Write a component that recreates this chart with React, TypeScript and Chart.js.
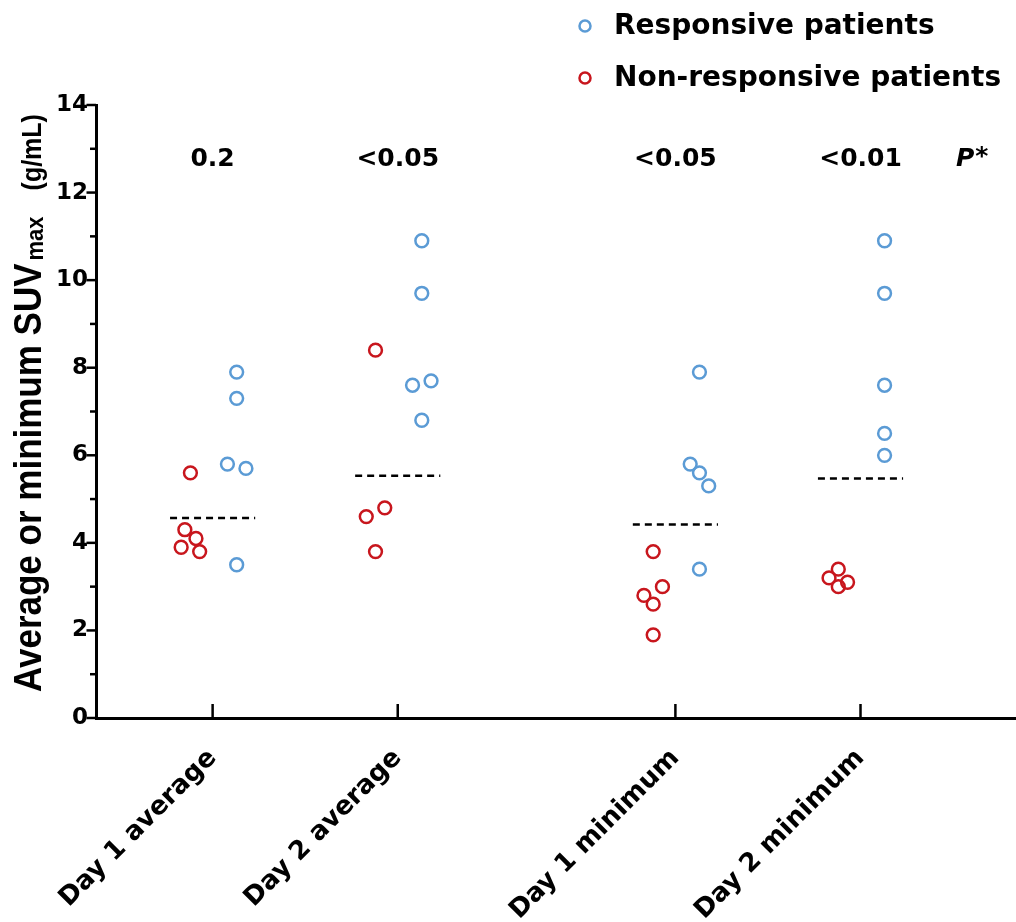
import React, { useEffect, useRef } from "react";
import { Chart, registerables } from "chart.js";

Chart.register(...registerables);

// ---------- data ----------
const categories = ["Day 1 average", "Day 2 average", "Day 1 minimum", "Day 2 minimum"];
const categoryPositions = [0, 1, 2.5, 3.5];

const seriesNames = ["Responsive patients", "Non-responsive patients"];

const responsiveValues = [
  [7.9, 7.3, 5.8, 5.7, 3.5],
  [10.9, 9.7, 7.7, 7.6, 6.8],
  [7.9, 5.8, 5.6, 5.3, 3.4],
  [10.9, 9.7, 7.6, 6.5, 6.0],
];
const responsiveJitter = [
  [0.13, 0.13, 0.08, 0.18, 0.13],
  [0.13, 0.13, 0.18, 0.08, 0.13],
  [0.13, 0.08, 0.13, 0.18, 0.13],
  [0.13, 0.13, 0.13, 0.13, 0.13],
];

const nonResponsiveValues = [
  [5.6, 4.3, 4.1, 3.9, 3.8],
  [8.4, 4.8, 4.6, 3.8],
  [3.8, 3.0, 2.8, 2.6, 1.9],
  [3.4, 3.2, 3.1, 3.0],
];
const nonResponsiveJitter = [
  [-0.12, -0.15, -0.09, -0.17, -0.07],
  [-0.12, -0.07, -0.17, -0.12],
  [-0.12, -0.07, -0.17, -0.12, -0.12],
  [-0.12, -0.17, -0.07, -0.12],
];

const cutoffValues = [4.57, 5.53, 4.42, 5.47];
const cutoffHalfWidth = 0.23;

const pValueLabels = ["0.2", "<0.05", "<0.05", "<0.01"];
const pValueLevel = 12.75;
const pHeaderPosition = 4.1;
const pHeaderText = "P";
const pHeaderStar = "*";

const yMin = 0;
const yMax = 14;
const xMin = -0.63;
const xMax = 4.34;

const yTitleMain = "Average or minimum SUV";
const yTitleSub = "max";
const yTitleUnit = "(g/mL)";

// ---------- styles ----------
const BLUE = "#5B9BD5";
const RED = "#C8161D";
const DEJAVU = '"DejaVu Sans", sans-serif';
const LIBERATION = '"Liberation Sans", Arial, sans-serif';

function buildPoints(values: number[][], jitter: number[][]) {
  const pts: { x: number; y: number }[] = [];
  values.forEach((arr, ci) => {
    arr.forEach((v, i) => {
      pts.push({ x: categoryPositions[ci] + jitter[ci][i], y: v });
    });
  });
  return pts;
}

const overlayPlugin = {
  id: "overlay",
  afterDraw(chart: any) {
    const ctx = chart.ctx as CanvasRenderingContext2D;
    const xs = chart.scales.x;
    const ys = chart.scales.y;
    const area = chart.chartArea;
    ctx.save();
    ctx.strokeStyle = "#000";
    ctx.fillStyle = "#000";
    ctx.lineWidth = 2.5;

    // y ticks (major / minor), outward
    ys.ticks.forEach((t: any) => {
      const py = ys.getPixelForValue(t.value);
      const len = t.value % 2 === 0 ? 8 : 4.5;
      ctx.beginPath();
      ctx.moveTo(area.left - 1.5 - len, py);
      ctx.lineTo(area.left, py);
      ctx.stroke();
    });

    // x ticks, inward (upward)
    categoryPositions.forEach((v) => {
      const px = xs.getPixelForValue(v);
      ctx.beginPath();
      ctx.moveTo(px, area.bottom);
      ctx.lineTo(px, area.bottom - 14);
      ctx.stroke();
    });

    // P values
    ctx.textAlign = "center";
    ctx.textBaseline = "middle";
    ctx.font = `bold 25px ${DEJAVU}`;
    const py = ys.getPixelForValue(pValueLevel);
    pValueLabels.forEach((lbl, i) => {
      ctx.fillText(lbl, xs.getPixelForValue(categoryPositions[i]), py);
    });
    // P* header
    const hx = xs.getPixelForValue(pHeaderPosition);
    ctx.font = `italic bold 25px ${DEJAVU}`;
    const wP = ctx.measureText(pHeaderText).width;
    ctx.font = `bold 25px ${DEJAVU}`;
    const wS = ctx.measureText(pHeaderStar).width;
    const startX = hx - (wP + wS) / 2;
    ctx.textAlign = "left";
    ctx.font = `italic bold 25px ${DEJAVU}`;
    ctx.fillText(pHeaderText, startX, py);
    ctx.font = `bold 25px ${DEJAVU}`;
    ctx.fillText(pHeaderStar, startX + wP + 1, py - 2);

    // Legend
    const legendColors = [BLUE, RED];
    const legendRows = [26, 78];
    ctx.font = `bold 28px ${DEJAVU}`;
    ctx.textBaseline = "middle";
    ctx.textAlign = "left";
    seriesNames.forEach((name, i) => {
      ctx.beginPath();
      ctx.lineWidth = 2.5;
      ctx.strokeStyle = legendColors[i];
      ctx.arc(585, legendRows[i], 5.5, 0, Math.PI * 2);
      ctx.stroke();
      ctx.fillStyle = "#000";
      ctx.fillText(name, 614, legendRows[i] + 1);
    });

    // Y axis title (rotated, with subscript)
    ctx.save();
    ctx.fillStyle = "#000";
    ctx.translate(41, 692);
    ctx.scale(1.12, 1);
    ctx.rotate(-Math.PI / 2);
    ctx.textAlign = "left";
    ctx.textBaseline = "alphabetic";
    ctx.font = `bold 35px ${LIBERATION}`;
    ctx.fillText(yTitleMain, 0, 0);
    const w1 = ctx.measureText(yTitleMain).width;
    ctx.font = `bold 22px ${LIBERATION}`;
    ctx.fillText(yTitleSub, w1 + 3, 2);
    const w2 = ctx.measureText(yTitleSub).width;
    ctx.font = `bold 25px ${LIBERATION}`;
    ctx.fillText(yTitleUnit, w1 + w2 + 29, 0);
    ctx.restore();

    ctx.restore();
  },
};

export default function App() {
  const canvasRef = useRef<HTMLCanvasElement | null>(null);

  useEffect(() => {
    if (!canvasRef.current) return;
    const cutoffDatasets = cutoffValues.map((v, i) => ({
      label: `cutoff-${i}`,
      data: [
        { x: categoryPositions[i] - cutoffHalfWidth, y: v },
        { x: categoryPositions[i] + cutoffHalfWidth, y: v },
      ],
      showLine: true,
      borderColor: "#000",
      borderWidth: 2.5,
      borderDash: [7, 5],
      pointRadius: 0,
      fill: false,
    }));

    const chart = new Chart(canvasRef.current, {
      type: "scatter",
      data: {
        datasets: [
          ...cutoffDatasets,
          {
            label: seriesNames[0],
            data: buildPoints(responsiveValues, responsiveJitter),
            pointStyle: "circle",
            pointRadius: 6.4,
            pointBorderWidth: 2.5,
            borderColor: BLUE,
            backgroundColor: "rgba(0,0,0,0)",
            pointBackgroundColor: "rgba(0,0,0,0)",
          },
          {
            label: seriesNames[1],
            data: buildPoints(nonResponsiveValues, nonResponsiveJitter),
            pointStyle: "circle",
            pointRadius: 6.4,
            pointBorderWidth: 2.5,
            borderColor: RED,
            backgroundColor: "rgba(0,0,0,0)",
            pointBackgroundColor: "rgba(0,0,0,0)",
          },
        ],
      } as any,
      options: {
        animation: false,
        responsive: false,
        devicePixelRatio: 1,
        layout: { autoPadding: false, padding: { top: 105, right: 0, bottom: 0, left: 0 } },
        plugins: {
          legend: { display: false },
          tooltip: { enabled: false },
          title: { display: false },
        },
        scales: {
          x: {
            type: "linear",
            min: xMin,
            max: xMax,
            afterBuildTicks: (scale: any) => {
              scale.ticks = categoryPositions.map((v) => ({ value: v }));
            },
            afterFit: (scale: any) => {
              scale.height = 204;
            },
            ticks: {
              autoSkip: false,
              minRotation: 45,
              maxRotation: 45,
              padding: 25,
              color: "#000",
              font: { family: DEJAVU, size: 26, weight: "bold" },
              callback: (_v: any, index: number) => categories[index],
            },
            grid: { display: false, drawTicks: false },
            border: { display: true, color: "#000", width: 3 },
          },
          y: {
            type: "linear",
            min: yMin,
            max: yMax,
            afterFit: (scale: any) => {
              scale.width = 96;
            },
            ticks: {
              stepSize: 1,
              padding: 8,
              color: "#000",
              font: { family: DEJAVU, size: 23, weight: "bold" },
              callback: (v: any) => (Number(v) % 2 === 0 ? String(v) : ""),
            },
            grid: { display: false, drawTicks: false },
            border: { display: true, color: "#000", width: 3 },
          },
        },
      } as any,
      plugins: [overlayPlugin],
    });
    return () => chart.destroy();
  }, []);

  return (
    <div style={{ position: "absolute", left: 0, top: 0, width: 1016, height: 922, background: "#fff" }}>
      <canvas ref={canvasRef} width={1016} height={922} style={{ display: "block" }} />
    </div>
  );
}
